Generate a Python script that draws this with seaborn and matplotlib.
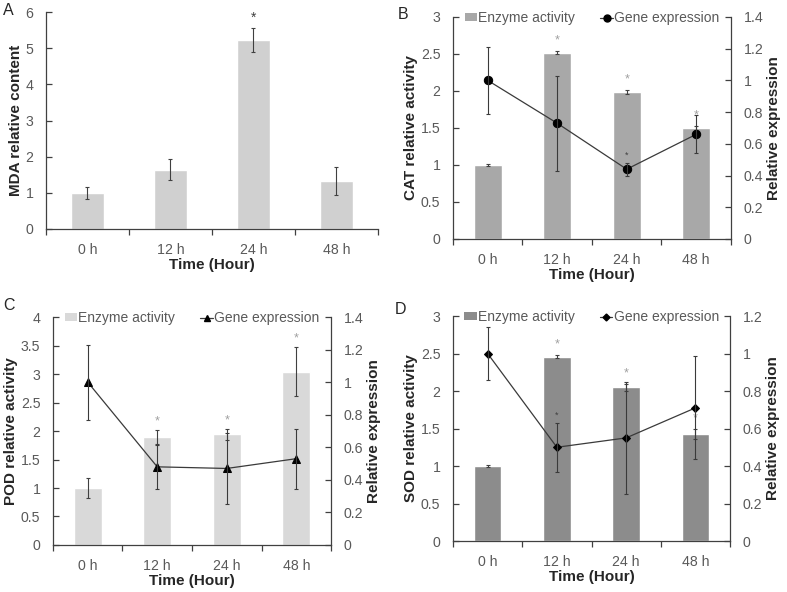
import numpy as np
import pandas as pd
import matplotlib
matplotlib.use("Agg")
import matplotlib.pyplot as plt
import seaborn as sns
from matplotlib.patches import Patch
from matplotlib.lines import Line2D

# Data
times = ["0 h", "12 h", "24 h", "48 h"]

mda = [1.0, 1.64, 5.22, 1.33]
mda_err = [0.17, 0.29, 0.33, 0.39]
mda_sig = [0, 0, 1, 0]

cat_act = [1.0, 2.52, 1.99, 1.50]
cat_act_err = [0.01, 0.02, 0.03, 0.03]
cat_act_sig = [0, 1, 1, 1]
cat_gene = [1.0, 0.73, 0.44, 0.66]
cat_gene_err = [0.21, 0.30, 0.04, 0.12]
cat_gene_sig = [0, 0, 1, 0]

pod_act = [1.0, 1.89, 1.94, 3.04]
pod_act_err = [0.18, 0.12, 0.10, 0.43]
pod_act_sig = [0, 1, 1, 1]
pod_gene = [1.0, 0.48, 0.47, 0.53]
pod_gene_err = [0.23, 0.135, 0.22, 0.185]
pod_gene_sig = [0, 0, 0, 0]

sod_act = [1.0, 2.46, 2.05, 1.43]
sod_act_err = [0.01, 0.02, 0.05, 0.07]
sod_act_sig = [0, 1, 1, 1]
sod_gene = [1.0, 0.50, 0.55, 0.71]
sod_gene_err = [0.14, 0.13, 0.30, 0.275]
sod_gene_sig = [0, 1, 0, 0]

sns.set_style("white")
plt.rcParams["font.family"] = ["Liberation Sans", "DejaVu Sans"]

TICK_COL = "#595959"
AX_COL = "#404040"
TICK_FS = 10.2
LAB_FS = 11


def fmt(v):
    return f"{v:g}"


def style_axis(ax, yticks, ylabel):
    ax.set_xlim(-0.5, 3.5)
    ax.set_ylim(yticks[0], yticks[-1])
    ax.set_yticks(yticks)
    ax.set_yticklabels([fmt(v) for v in yticks])
    ax.set_xticks([-0.5, 0.5, 1.5, 2.5, 3.5])
    ax.set_xticklabels([])
    ax.set_xticks(range(4), minor=True)
    ax.set_xticklabels(times, minor=True)
    ax.tick_params(axis="x", which="major", direction="out", length=4,
                   width=0.9, color=AX_COL, bottom=True)
    ax.tick_params(axis="x", which="minor", length=0, pad=10,
                   labelsize=TICK_FS, labelcolor=TICK_COL, bottom=True)
    ax.tick_params(axis="y", direction="in", length=4, width=0.9,
                   color=AX_COL, pad=9, labelsize=TICK_FS,
                   labelcolor=TICK_COL, left=True)
    for s in ["top", "right"]:
        ax.spines[s].set_visible(False)
    for s in ["left", "bottom"]:
        ax.spines[s].set_color(AX_COL)
        ax.spines[s].set_linewidth(0.9)
    ax.set_xlabel("Time (Hour)", fontsize=LAB_FS, fontweight="bold",
                  labelpad=1)
    ax.set_ylabel(ylabel, fontsize=LAB_FS, fontweight="bold", labelpad=2)


def stars(ax, vals, errs, sig, off, color, size):
    for i, (v, e, s) in enumerate(zip(vals, errs, sig)):
        if s:
            ax.text(i, v + e + off, "*", ha="center", va="center",
                    color=color, fontsize=size)


def bars(ax, vals, errs, color):
    df = pd.DataFrame({"time": times, "val": vals})
    sns.barplot(data=df, x="time", y="val", color=color, width=0.4,
                saturation=1, ax=ax, errorbar=None)
    ax.errorbar(range(4), vals, yerr=errs, fmt="none", ecolor=AX_COL,
                elinewidth=0.8, capsize=1.5, capthick=0.8, zorder=3)


fig = plt.figure(figsize=(7.87, 5.92), dpi=100)

# Panel A
axA = fig.add_axes([0.0584, 0.6132, 0.4216, 0.3665])
bars(axA, mda, mda_err, "#d0d0d0")
style_axis(axA, np.arange(0, 7, 1), "MDA relative content")
stars(axA, mda, mda_err, mda_sig, 0.3, AX_COL, 10)


def combo(rect, act, act_err, act_sig, gene, gene_err, gene_sig, color,
          marker, ms, lticks, rticks, ylabel, act_off, gene_off):
    ax = fig.add_axes(rect)
    bars(ax, act, act_err, color)
    style_axis(ax, lticks, ylabel)
    ax2 = ax.twinx()
    sns.lineplot(x=np.arange(4), y=gene, ax=ax2, color="#3a3a3a",
                 linewidth=0.9, marker=marker, markersize=ms,
                 markeredgecolor="black", markerfacecolor="black", zorder=4)
    ax2.errorbar(range(4), gene, yerr=gene_err, fmt="none", ecolor="#3a3a3a",
                 elinewidth=0.8, capsize=1.5, capthick=0.8, zorder=4)
    ax2.set_xlim(-0.5, 3.5)
    ax2.set_ylim(rticks[0], rticks[-1])
    ax2.set_yticks(rticks)
    ax2.set_yticklabels([fmt(round(v, 1)) for v in rticks])
    ax2.tick_params(axis="y", direction="in", length=4, width=0.9,
                    color=AX_COL, pad=9, labelsize=TICK_FS,
                    labelcolor=TICK_COL, right=True)
    for s in ["top", "left", "bottom"]:
        ax2.spines[s].set_visible(False)
    ax2.spines["right"].set_color(AX_COL)
    ax2.spines["right"].set_linewidth(0.9)
    ax2.set_ylabel("Relative expression", fontsize=LAB_FS, fontweight="bold",
                   labelpad=3)
    stars(ax, act, act_err, act_sig, act_off, "#a0a0a0", 9)
    stars(ax2, gene, gene_err, gene_sig, gene_off, "#404040", 6.5)
    handles = [Patch(facecolor=color, edgecolor="none"),
               Line2D([0], [0], color="#3a3a3a", lw=0.9, marker=marker,
                      markersize=ms - 1, markerfacecolor="black",
                      markeredgecolor="black")]
    ax2.legend(handles, ["Enzyme activity", "Gene expression"], ncol=2,
               loc="center", bbox_to_anchor=(0.5, 0.995), frameon=False,
               fontsize=10, labelcolor=TICK_COL, handlelength=0.9,
               handleheight=0.5, handletextpad=0.1, columnspacing=1.8)
    return ax, ax2


combo([0.5756, 0.5963, 0.3532, 0.3750], cat_act, cat_act_err, cat_act_sig,
      cat_gene, cat_gene_err, cat_gene_sig, "#a8a8a8", "o", 6,
      np.arange(0, 3.01, 0.5), np.arange(0, 1.41, 0.2),
      "CAT relative activity", 0.14, 0.05)

combo([0.0673, 0.0794, 0.3533, 0.3851], pod_act, pod_act_err, pod_act_sig,
      pod_gene, pod_gene_err, pod_gene_sig, "#d9d9d9", "^", 5.5,
      np.arange(0, 4.01, 0.5), np.arange(0, 1.41, 0.2),
      "POD relative activity", 0.15, 0.05)

combo([0.5756, 0.0861, 0.3520, 0.3801], sod_act, sod_act_err, sod_act_sig,
      sod_gene, sod_gene_err, sod_gene_sig, "#8c8c8c", "D", 4.5,
      np.arange(0, 3.01, 0.5), np.arange(0, 1.21, 0.2),
      "SOD relative activity", 0.14, 0.04)

for lbl, x, y in [("A", 0.004, 0.995), ("B", 0.505, 0.988),
                  ("C", 0.004, 0.497), ("D", 0.502, 0.490)]:
    fig.text(x, y, lbl, fontsize=11.5, va="top", ha="left", color="#262626")

fig.savefig("out.png", dpi=100)
